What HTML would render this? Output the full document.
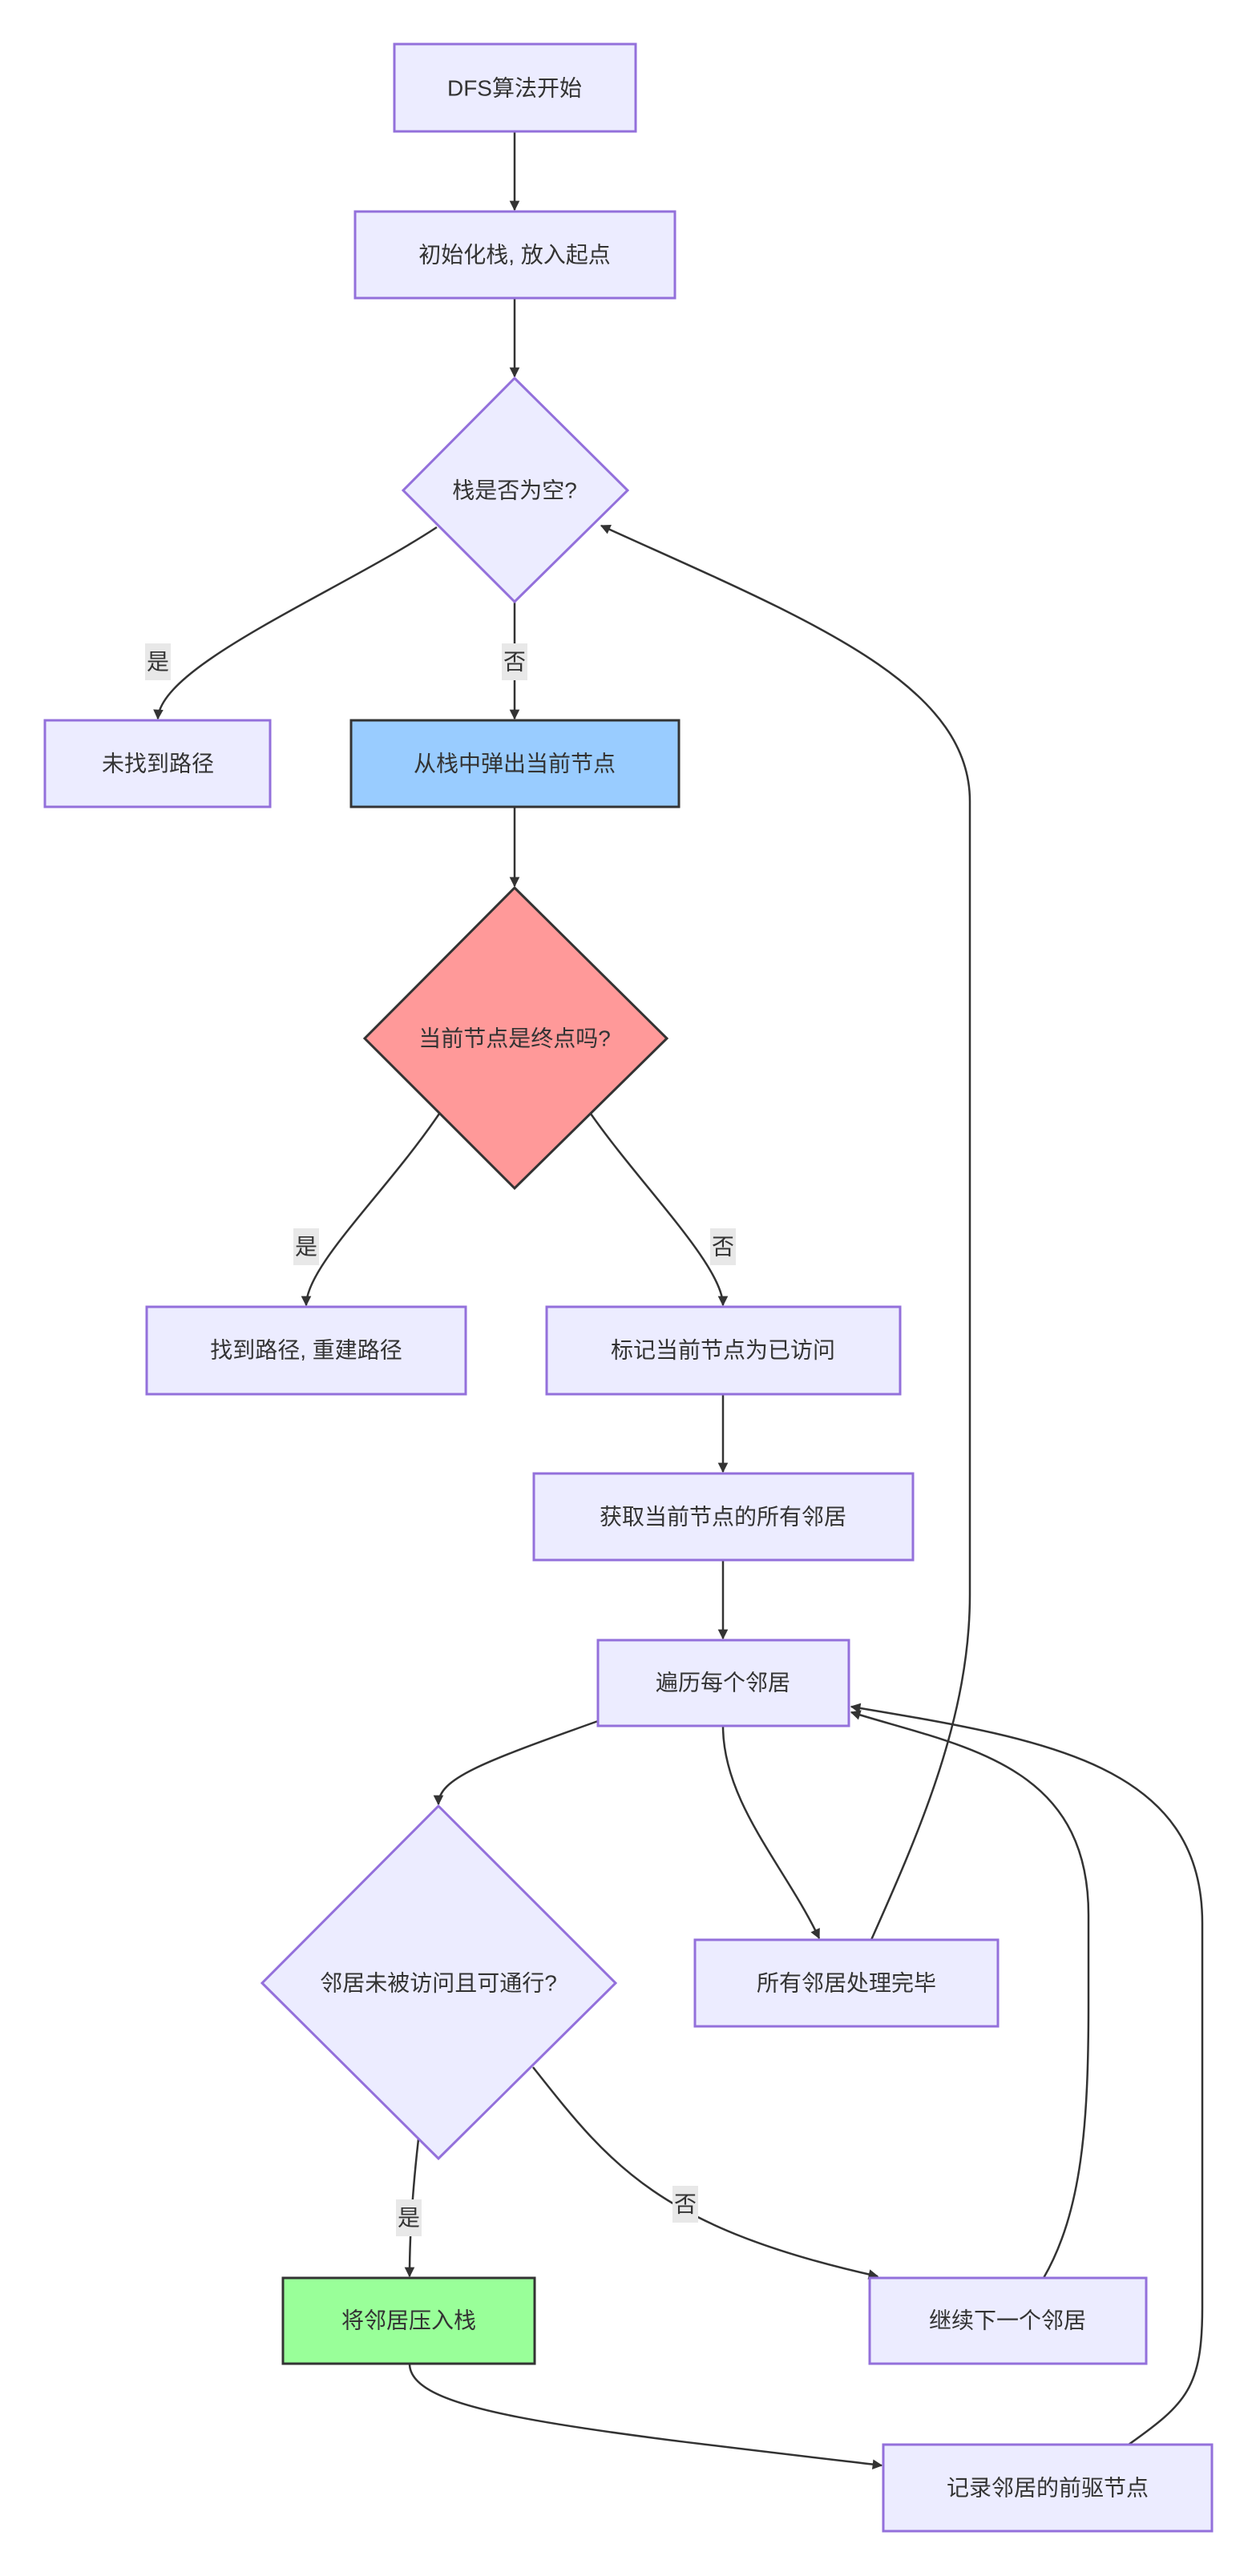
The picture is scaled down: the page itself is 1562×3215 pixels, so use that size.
<!DOCTYPE html>
<html><head><meta charset="utf-8"><style>
html,body{margin:0;padding:0;background:#fff;}
svg{display:block;}
text{font-family:"Liberation Sans","Noto Sans CJK SC",sans-serif;font-size:28px;fill:#333;text-anchor:middle;dominant-baseline:central;}
.n{fill:#ECECFF;stroke:#9370DB;stroke-width:3;}
.e{fill:none;stroke:#333;stroke-width:2.5;}
.lb{fill:#e8e8e8;}
</style></head><body>
<svg width="1562" height="3215" viewBox="0 0 1562 3215" xmlns="http://www.w3.org/2000/svg">
<defs><marker id="a" viewBox="0 0 10 10" refX="9" refY="5" markerWidth="7" markerHeight="7" orient="auto" markerUnits="userSpaceOnUse" style="overflow:visible"><path d="M0,0 L10,5 L0,10 z" fill="#333" transform="scale(1.8) translate(-4,-2.2)"/></marker></defs>
<g marker-end="url(#a)">
<path class="e" d="M642,164 L642,262"/>
<path class="e" d="M642,372 L642,470"/>
<path class="e" d="M545,658 C420,740 200,830 197,897"/>
<path class="e" d="M642,751 L642,897"/>
<path class="e" d="M642,1007 L642,1106"/>
<path class="e" d="M548,1390 C480,1490 382,1580 382,1629"/>
<path class="e" d="M737,1390 C800,1480 902,1580 902,1629"/>
<path class="e" d="M902,1740 L902,1837"/>
<path class="e" d="M902,1947 L902,2045"/>
<path class="e" d="M746,2148 C600,2200 547,2220 547,2252"/>
<path class="e" d="M902,2154 C902,2250 980,2330 1022,2419"/>
<path class="e" d="M1087,2421 C1150,2280 1210,2140 1210,1990 L1210,1000 C1210,850 1000,770 750,656"/>
<path class="e" d="M522,2670 C514,2740 511,2800 511,2841"/>
<path class="e" d="M665,2580 C760,2700 820,2780 1095,2841"/>
<path class="e" d="M1302,2843 C1350,2760 1358,2650 1358,2500 L1358,2390 C1358,2200 1200,2180 1062,2137"/>
<path class="e" d="M511,2950 C511,3010 700,3030 1100,3077"/>
<path class="e" d="M1408,3051 C1480,3000 1500,2980 1500,2880 L1500,2400 C1500,2200 1300,2170 1062,2130"/>
</g>
<rect class="n" x="492" y="55" width="301" height="109"/><text x="642" y="110">DFS算法开始</text>
<rect class="n" x="443" y="264" width="399" height="108"/><text x="642" y="318">初始化栈, 放入起点</text>
<polygon class="n" points="642,472 783,612 642,751 503,612"/><text x="642" y="612">栈是否为空?</text>
<rect class="n" x="56" y="899" width="281" height="108"/><text x="197" y="953">未找到路径</text>
<rect x="438" y="899" width="409" height="108" fill="#99ccff" stroke="#333" stroke-width="3"/><text x="642" y="953">从栈中弹出当前节点</text>
<polygon points="642,1108 832,1296 642,1483 455,1296" fill="#ff9999" stroke="#333" stroke-width="3"/><text x="642" y="1296">当前节点是终点吗?</text>
<rect class="n" x="183" y="1631" width="398" height="109"/><text x="382" y="1685">找到路径, 重建路径</text>
<rect class="n" x="682" y="1631" width="441" height="109"/><text x="902" y="1685">标记当前节点为已访问</text>
<rect class="n" x="666" y="1839" width="473" height="108"/><text x="902" y="1893">获取当前节点的所有邻居</text>
<rect class="n" x="746" y="2047" width="313" height="107"/><text x="902" y="2100">遍历每个邻居</text>
<polygon class="n" points="547,2254 768,2475 547,2694 327,2475"/><text x="547" y="2475">邻居未被访问且可通行?</text>
<rect class="n" x="867" y="2421" width="378" height="108"/><text x="1056" y="2475">所有邻居处理完毕</text>
<rect x="353" y="2843" width="314" height="107" fill="#99ff99" stroke="#333" stroke-width="3"/><text x="510" y="2896">将邻居压入栈</text>
<rect class="n" x="1085" y="2843" width="345" height="107"/><text x="1257" y="2896">继续下一个邻居</text>
<rect class="n" x="1102" y="3051" width="410" height="108"/><text x="1307" y="3105">记录邻居的前驱节点</text>
<rect class="lb" x="181" y="803" width="32" height="46"/><text x="197" y="826">是</text>
<rect class="lb" x="626" y="803" width="32" height="46"/><text x="642" y="826">否</text>
<rect class="lb" x="366" y="1533" width="32" height="46"/><text x="382" y="1556">是</text>
<rect class="lb" x="886" y="1533" width="32" height="46"/><text x="902" y="1556">否</text>
<rect class="lb" x="494" y="2745" width="32" height="46"/><text x="510" y="2768">是</text>
<rect class="lb" x="839" y="2728" width="32" height="46"/><text x="855" y="2751">否</text>
</svg>
</body></html>
